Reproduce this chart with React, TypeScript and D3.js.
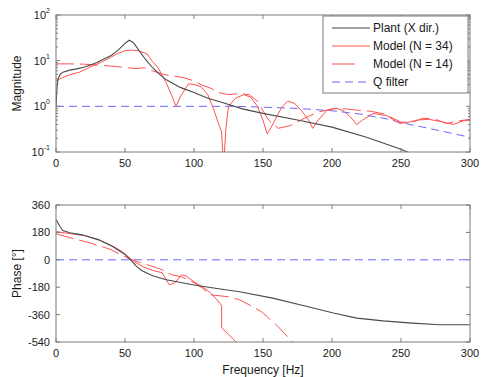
import React from 'react';
import * as d3 from 'd3';

const freqTicks = [0, 50, 100, 150, 200, 250, 300];
const magTicks = [0.1, 1, 10, 100];
const magTickExp = ['-1', '0', '1', '2'];
const phaseTicks = [-540, -360, -180, 0, 180, 360];

// Magnitude
const plantMagF = [0, 0.7, 1.5, 3, 5, 10, 15, 20, 25, 30, 35, 40, 45, 50, 53, 56, 60, 65, 70, 75, 80, 90, 100, 110, 120, 135, 150, 175, 200, 225, 250, 260];
const plantMag = [1.0, 2.5, 4.0, 5.0, 5.6, 6.2, 6.6, 7.2, 8.0, 9.2, 11, 13, 17, 24, 28, 25, 17, 10.5, 7, 5, 3.8, 2.6, 2.0, 1.5, 1.23, 0.88, 0.70, 0.5, 0.35, 0.21, 0.115, 0.085];

const m34MagF = [0, 5, 10, 17, 25, 33, 40, 45, 50, 55, 60, 66, 70, 74, 80, 84, 87, 90, 96, 100, 105, 110, 114, 118, 120, 121, 122, 123, 125, 130, 136, 141, 146, 150, 153, 156, 160, 164, 168, 173, 178, 183, 186, 190, 196, 203, 208, 213, 218, 222, 230, 240, 249, 254, 262, 270, 278, 288, 295, 300];
const m34Mag = [3.6, 4.3, 4.9, 5.6, 7.3, 9.3, 12, 14.5, 16.5, 17, 16.5, 14, 9.5, 7, 3.2, 1.7, 1.0, 1.6, 3.1, 3.0, 2.7, 1.8, 0.9, 0.4, 0.28, 0.08, 0.09, 0.3, 1.0, 1.5, 1.8, 1.6, 1.0, 0.5, 0.25, 0.35, 0.6, 1.0, 1.3, 1.15, 0.8, 0.5, 0.33, 0.5, 0.8, 0.92, 0.8, 0.6, 0.4, 0.5, 0.7, 0.62, 0.42, 0.44, 0.5, 0.52, 0.47, 0.4, 0.48, 0.5];

const m14MagF = [0, 10, 20, 30, 40, 50, 58, 64, 70, 78, 85, 92, 100, 106, 112, 118, 125, 133, 140, 146, 150, 154, 161, 170, 180, 190, 200, 210, 217, 228, 238, 250, 258, 266, 275, 283, 292, 300];
const m14Mag = [8.5, 8.5, 8.4, 8.0, 7.6, 7.1, 6.7, 7.0, 6.0, 5.0, 4.6, 4.3, 3.6, 2.9, 2.5, 2.0, 1.8, 1.9, 1.8, 1.3, 0.8, 0.5, 0.33, 0.38, 0.55, 0.75, 0.88, 0.88, 0.83, 0.78, 0.68, 0.45, 0.45, 0.55, 0.52, 0.42, 0.48, 0.52];

const qMagF = [0, 130, 150, 175, 200, 220, 240, 250, 270, 300];
const qMag = [1, 1, 0.96, 0.9, 0.8, 0.68, 0.53, 0.44, 0.33, 0.21];

// Phase
const plantPhF = [0, 3, 5, 10, 19, 31, 41, 50, 54, 58, 62, 70, 80, 99, 113, 133, 157, 182, 201, 218, 237, 258, 278, 300];
const plantPh = [265, 217, 192, 178, 164, 131, 87, 35, 0, -40, -70, -105, -131, -164, -184, -210, -252, -307, -350, -383, -401, -416, -427, -427];

const m34PhF = [0, 10, 20, 30, 40, 47, 53, 58, 63, 70, 77, 82, 86, 91, 94, 101, 106, 111, 116, 120, 120, 125, 131];
const m34Ph = [185, 172, 160, 135, 95, 60, 15, -20, -45, -70, -85, -164, -151, -99, -105, -151, -177, -210, -255, -300, -447, -490, -545];

const m14PhF = [0, 5, 10, 13, 20, 25, 29, 35, 40, 47, 55, 60, 67, 72, 77, 84, 91, 99, 106, 112, 125, 133, 140, 149, 153, 161, 172];
const m14Ph = [172, 158, 146, 138, 122, 110, 97, 82, 66, 33, 0, -15, -35, -50, -66, -99, -112, -145, -185, -230, -243, -263, -296, -342, -374, -440, -545];

const qPhF = [0, 300];
const qPh = [0, 0];

const legendLabels = ['Plant (X dir.)', 'Model (N = 34)', 'Model (N = 14)', 'Q filter'];

const FONT = 'Liberation Sans, Arial, Helvetica, sans-serif';
const AX = '#7a7a7a';
const TXT = '#1a1a1a';
const PLANT = '#4a4a4a';
const RED = '#ff5050';
const BLUE = '#6868ff';

export default function App() {
  const W = 482, H = 377;
  const L = 56, R = 470;
  const magTop = 15, magBot = 152, phTop = 205, phBot = 342;
  const x = d3.scaleLinear().domain([0, 300]).range([L, R]);
  const yM = d3.scaleLog().domain([0.1, 100]).range([magBot, magTop]);
  const yP = d3.scaleLinear().domain([-540, 360]).range([phBot, phTop]);

  const mkLine = (fs: number[], vs: number[], y: (v: number) => number) =>
    d3.line<number>().x((_, i) => x(fs[i])).y((d) => y(d))(vs) || '';

  const minor: number[] = [];
  [0.1, 1, 10].forEach((d) => {
    for (let k = 2; k <= 9; k++) minor.push(d * k);
  });

  const tickLen = 4;

  const xTicks = (top: number, bot: number, labelY: number) => (
    <g>
      {freqTicks.map((t) => (
        <g key={t}>
          <line x1={x(t)} x2={x(t)} y1={bot} y2={bot - tickLen} stroke={AX} />
          <line x1={x(t)} x2={x(t)} y1={top} y2={top + tickLen} stroke={AX} />
          <text x={x(t)} y={labelY} textAnchor="middle" fontSize={11} fill={TXT} fontFamily={FONT}>
            {t}
          </text>
        </g>
      ))}
    </g>
  );

  return (
    <svg width={W} height={H} style={{ position: 'absolute', left: 0, top: 0, background: '#fff' }}>
      <defs>
        <clipPath id="clipM">
          <rect x={L} y={magTop} width={R - L} height={magBot - magTop} />
        </clipPath>
        <clipPath id="clipP">
          <rect x={L} y={phTop} width={R - L} height={phBot - phTop} />
        </clipPath>
      </defs>
      <rect x={0} y={0} width={W} height={H} fill="#fff" />

      {/* Magnitude plot */}
      <g clipPath="url(#clipM)" fill="none">
        <path d={mkLine(qMagF, qMag, yM)} stroke={BLUE} strokeWidth={1} strokeDasharray="8,5" />
        <path d={mkLine(m14MagF, m14Mag, yM)} stroke={RED} strokeWidth={1} strokeDasharray="18,6" />
        <path d={mkLine(m34MagF, m34Mag, yM)} stroke={RED} strokeWidth={1} />
        <path d={mkLine(plantMagF, plantMag, yM)} stroke={PLANT} strokeWidth={1.1} />
      </g>
      <rect x={L} y={magTop} width={R - L} height={magBot - magTop} fill="none" stroke={AX} />
      {xTicks(magTop, magBot, 167)}
      {magTicks.map((t, i) => (
        <g key={t}>
          <line x1={L} x2={L + tickLen} y1={yM(t)} y2={yM(t)} stroke={AX} />
          <line x1={R} x2={R - tickLen} y1={yM(t)} y2={yM(t)} stroke={AX} />
          <text x={50} y={yM(t) + 4} textAnchor="end" fontSize={11} fill={TXT} fontFamily={FONT}>
            10
            <tspan dy={-6} fontSize={7}>
              {magTickExp[i]}
            </tspan>
          </text>
        </g>
      ))}
      {minor.map((t) => (
        <g key={t}>
          <line x1={L} x2={L + 2} y1={yM(t)} y2={yM(t)} stroke={AX} />
          <line x1={R} x2={R - 2} y1={yM(t)} y2={yM(t)} stroke={AX} />
        </g>
      ))}
      <text
        transform={`translate(21,${(magTop + magBot) / 2}) rotate(-90)`}
        textAnchor="middle"
        fontSize={12}
        fill={TXT}
        fontFamily={FONT}
      >
        Magnitude
      </text>

      {/* Legend */}
      <g>
        <rect x={323} y={16} width={145} height={77} fill="#fff" stroke={AX} />
        {legendLabels.map((lab, i) => {
          const ly = 28 + i * 18;
          return (
            <g key={lab}>
              {i === 0 && <line x1={332} x2={370} y1={ly} y2={ly} stroke={PLANT} strokeWidth={1.1} />}
              {i === 1 && <line x1={332} x2={370} y1={ly} y2={ly} stroke={RED} strokeWidth={1} />}
              {i === 2 && <line x1={332} x2={355} y1={ly} y2={ly} stroke={RED} strokeWidth={1} />}
              {i === 3 && <line x1={332} x2={370} y1={ly} y2={ly} stroke={BLUE} strokeWidth={1} strokeDasharray="8,5" />}
              <text x={373} y={ly + 4} fontSize={12} fill={TXT} fontFamily={FONT}>
                {lab}
              </text>
            </g>
          );
        })}
      </g>

      {/* Phase plot */}
      <g clipPath="url(#clipP)" fill="none">
        <path d={mkLine(qPhF, qPh, yP)} stroke={BLUE} strokeWidth={1} strokeDasharray="8,5" />
        <path d={mkLine(m14PhF, m14Ph, yP)} stroke={RED} strokeWidth={1} strokeDasharray="18,6" />
        <path d={mkLine(m34PhF, m34Ph, yP)} stroke={RED} strokeWidth={1} />
        <path d={mkLine(plantPhF, plantPh, yP)} stroke={PLANT} strokeWidth={1.1} />
      </g>
      <rect x={L} y={phTop} width={R - L} height={phBot - phTop} fill="none" stroke={AX} />
      {xTicks(phTop, phBot, 357)}
      {phaseTicks.map((t) => (
        <g key={t}>
          <line x1={L} x2={L + tickLen} y1={yP(t)} y2={yP(t)} stroke={AX} />
          <line x1={R} x2={R - tickLen} y1={yP(t)} y2={yP(t)} stroke={AX} />
          <text x={50} y={yP(t) + 4} textAnchor="end" fontSize={11} fill={TXT} fontFamily={FONT}>
            {t}
          </text>
        </g>
      ))}
      <text
        transform={`translate(21,${(phTop + phBot) / 2}) rotate(-90)`}
        textAnchor="middle"
        fontSize={12}
        fill={TXT}
        fontFamily={FONT}
      >
        Phase [°]
      </text>
      <text x={263} y={374} textAnchor="middle" fontSize={12} fill={TXT} fontFamily={FONT}>
        Frequency [Hz]
      </text>
    </svg>
  );
}
